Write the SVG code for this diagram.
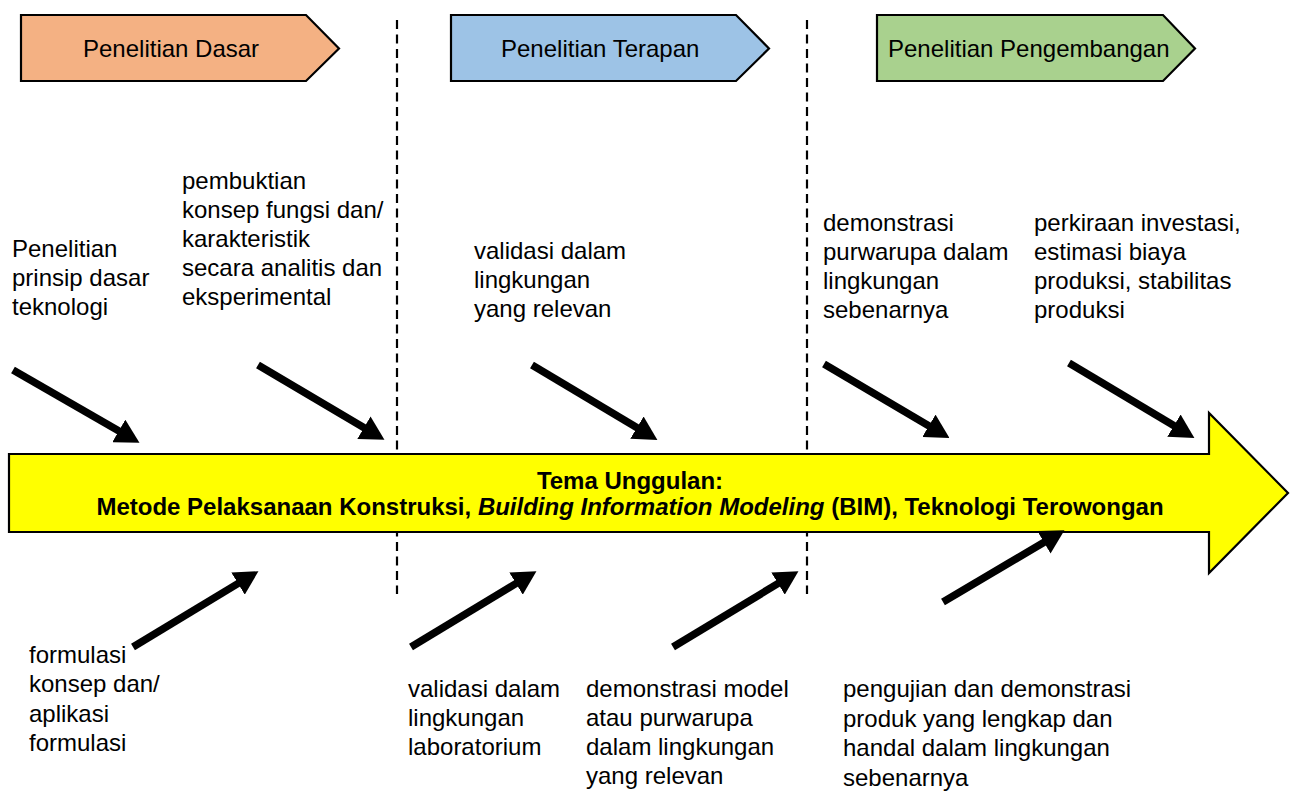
<svg xmlns="http://www.w3.org/2000/svg" width="1293" height="791" viewBox="0 0 1293 791">
<style>
.t{font-family:"Liberation Sans",Arial,Helvetica,sans-serif;font-size:24px;fill:#000}
.b{font-weight:bold}
.ban{stroke:#000;stroke-width:2.2;stroke-linejoin:miter}
.dash{stroke:#000;stroke-width:2.2;stroke-dasharray:9 5.5;fill:none}
.arr{stroke:#000;stroke-width:7.5;fill:none;stroke-linecap:butt}
</style>
<defs>
<marker id="ah" markerUnits="userSpaceOnUse" markerWidth="24" markerHeight="26" viewBox="0 0 22 24" refX="2" refY="12" orient="auto">
<path d="M0,0 L22,12 L0,24 z" fill="#000"/>
</marker>
</defs>
<rect width="1293" height="791" fill="#fff"/>
<g id="dividers">
<line class="dash" x1="397" y1="20" x2="397" y2="594"/>
<line class="dash" x1="807" y1="20" x2="807" y2="594"/>
</g>
<g id="banner-dasar">
<polygon class="ban" fill="#F4B183" points="21,15 306,15 339,48.5 306,81 21,81"/>
<text class="t" x="83" y="57">Penelitian Dasar</text>
</g>
<g id="banner-terapan">
<polygon class="ban" fill="#9DC3E6" points="451,15 736,15 769,48.5 736,81 451,81"/>
<text class="t" x="501" y="57">Penelitian Terapan</text>
</g>
<g id="banner-pengembangan">
<polygon class="ban" fill="#A9D18E" points="877,15 1163,15 1195,48.5 1163,81 877,81"/>
<text class="t" x="888" y="57">Penelitian Pengembangan</text>
</g>
<g id="main-arrow">
<polygon fill="#FFFF00" stroke="#000" stroke-width="2.2" points="9,454 1209,454 1209,413 1288,493 1209,573 1209,532 9,532"/>
<text class="t b" text-anchor="middle" x="630" y="489">Tema Unggulan:</text>
<text class="t b" text-anchor="middle" x="630" y="515">Metode Pelaksanaan Konstruksi, <tspan font-style="italic">Building Information Modeling</tspan> (BIM), Teknologi Terowongan</text>
</g>
<g id="connectors">
<line class="arr" marker-end="url(#ah)" x1="13" y1="370" x2="120.7" y2="432.0"/>
<line class="arr" marker-end="url(#ah)" x1="258" y1="365" x2="365.8" y2="428.8"/>
<line class="arr" marker-end="url(#ah)" x1="532" y1="365" x2="638.8" y2="428.8"/>
<line class="arr" marker-end="url(#ah)" x1="824" y1="364" x2="930.8" y2="426.9"/>
<line class="arr" marker-end="url(#ah)" x1="1069" y1="363" x2="1175.8" y2="426.8"/>
<line class="arr" marker-end="url(#ah)" x1="133" y1="647" x2="239.9" y2="582.4"/>
<line class="arr" marker-end="url(#ah)" x1="411" y1="647" x2="517.9" y2="582.4"/>
<line class="arr" marker-end="url(#ah)" x1="673" y1="647" x2="779.9" y2="582.4"/>
<line class="arr" marker-end="url(#ah)" x1="943" y1="602" x2="1045.8" y2="541.2"/>
</g>
<g id="label-prinsip">
<text class="t" x="12"><tspan x="12" y="257">Penelitian</tspan><tspan x="12" y="286">prinsip dasar</tspan><tspan x="12" y="315">teknologi</tspan></text>
</g>
<g id="label-pembuktian">
<text class="t" x="182"><tspan x="182" y="189">pembuktian</tspan><tspan x="182" y="218">konsep fungsi dan/</tspan><tspan x="182" y="247">karakteristik</tspan><tspan x="182" y="276">secara analitis dan</tspan><tspan x="182" y="305">eksperimental</tspan></text>
</g>
<g id="label-validasi-relevan">
<text class="t" x="474"><tspan x="474" y="259">validasi dalam</tspan><tspan x="474" y="288">lingkungan</tspan><tspan x="474" y="317">yang relevan</tspan></text>
</g>
<g id="label-demonstrasi-purwarupa">
<text class="t" x="823"><tspan x="823" y="231">demonstrasi</tspan><tspan x="823" y="260">purwarupa dalam</tspan><tspan x="823" y="289">lingkungan</tspan><tspan x="823" y="318">sebenarnya</tspan></text>
</g>
<g id="label-perkiraan">
<text class="t" x="1034"><tspan x="1034" y="231">perkiraan investasi,</tspan><tspan x="1034" y="260">estimasi biaya</tspan><tspan x="1034" y="289">produksi, stabilitas</tspan><tspan x="1034" y="318">produksi</tspan></text>
</g>
<g id="label-formulasi">
<text class="t" x="29"><tspan x="29" y="663">formulasi</tspan><tspan x="29" y="692">konsep dan/</tspan><tspan x="29" y="722">aplikasi</tspan><tspan x="29" y="751">formulasi</tspan></text>
</g>
<g id="label-validasi-lab">
<text class="t" x="408"><tspan x="408" y="697">validasi dalam</tspan><tspan x="408" y="726">lingkungan</tspan><tspan x="408" y="755">laboratorium</tspan></text>
</g>
<g id="label-demonstrasi-model">
<text class="t" x="586"><tspan x="586" y="697">demonstrasi model</tspan><tspan x="586" y="726">atau purwarupa</tspan><tspan x="586" y="755">dalam lingkungan</tspan><tspan x="586" y="784">yang relevan</tspan></text>
</g>
<g id="label-pengujian">
<text class="t" x="843"><tspan x="843" y="697">pengujian dan demonstrasi</tspan><tspan x="843" y="727">produk yang lengkap dan</tspan><tspan x="843" y="756">handal dalam lingkungan</tspan><tspan x="843" y="786">sebenarnya</tspan></text>
</g>
</svg>
